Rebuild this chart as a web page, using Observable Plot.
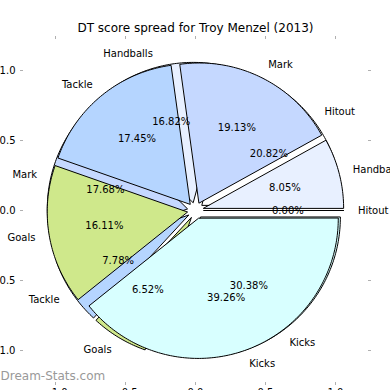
<!DOCTYPE html>
<html>
<head>
<meta charset="utf-8">
<script src="https://cdn.jsdelivr.net/npm/d3@7"></script>
<script src="https://cdn.jsdelivr.net/npm/@observablehq/plot@0.6"></script>
<style>
  html, body { margin: 0; padding: 0; background: #fff; }
  #chart svg { display: block; }
</style>
</head>
<body>
<div id="chart"></div>
<script>
// ---- data (counter-clockwise from 0°, as in matplotlib) ----
const title = "DT score spread for Troy Menzel (2013)";
const watermark = "Dream-Stats.com";
const categories = ["Hitout", "Handballs", "Mark", "Tackle", "Goals", "Kicks"];
const seriesTop = [0.00, 8.05, 19.13, 17.45, 16.11, 39.26];    // pie drawn on top
const seriesUnder = [20.82, 16.82, 17.68, 7.78, 6.52, 30.38];  // pie drawn underneath
const xTicks = [-1.0, -0.5, 0.0, 0.5, 1.0];
const yTicks = [-1.0, -0.5, 0.0, 0.5, 1.0];

// ---- styling ----
const palette = ["#ffffff", "#e8f0ff", "#c5d8ff", "#b5d5ff", "#cfe88b", "#d8ffff"];
const explode = 0.06;
const shadowOffset = 0.02;

function wedges(values, name) {
  const total = d3.sum(values);
  let a0 = 0;
  return values.map((v, i) => {
    const a1 = a0 + (v / total) * 2 * Math.PI;
    const mid = (a0 + a1) / 2;
    const w = {pie: name, cat: categories[i], value: v, pct: (v / total) * 100,
      a0, a1, mid, cx: explode * Math.cos(mid), cy: explode * Math.sin(mid), color: palette[i]};
    a0 = a1;
    return w;
  });
}

function polygon(w, ox, oy, color, keySuffix) {
  const pts = [];
  const key = w.pie + "-" + w.cat + keySuffix;
  pts.push({key, color, x: w.cx + ox, y: w.cy + oy});
  const n = Math.max(2, Math.ceil((w.a1 - w.a0) / (Math.PI / 180)));
  for (let k = 0; k <= n; k++) {
    const a = w.a0 + (w.a1 - w.a0) * k / n;
    pts.push({key, color, x: w.cx + ox + Math.cos(a), y: w.cy + oy + Math.sin(a)});
  }
  return pts;
}

function shade(c) {
  const r = d3.rgb(c);
  return d3.rgb(r.r * 0.3, r.g * 0.3, r.b * 0.3).formatHex();
}

const wTop = wedges(seriesTop, "top");
const wUnder = wedges(seriesUnder, "under");
const all = [...wUnder, ...wTop];

const shadowPts = all.flatMap(w => polygon(w, -shadowOffset, -shadowOffset, shade(w.color), "-s"));
const underPts = wUnder.flatMap(w => polygon(w, 0, 0, w.color, ""));
const topPts = wTop.flatMap(w => polygon(w, 0, 0, w.color, ""));

const labels = all.map(w => ({
  x: w.cx + 1.1 * Math.cos(w.mid), y: w.cy + 1.1 * Math.sin(w.mid), text: w.cat
}));
const labelsRight = labels.filter(d => d.x > 0);
const labelsLeft = labels.filter(d => d.x <= 0);
const pcts = all.map(w => ({
  x: w.cx + 0.6 * Math.cos(w.mid), y: w.cy + 0.6 * Math.sin(w.mid),
  text: w.pct.toFixed(2) + "%"
}));

const fmt = d3.format(".1f");
const tickColor = "#b0b0b0";

const chart = Plot.plot({
  width: 390,
  height: 390,
  marginLeft: 20,
  marginRight: 20,
  marginTop: 35,
  marginBottom: 5,
  style: {fontFamily: "DejaVu Sans", fontSize: "10px", background: "#fff", color: "#000", overflow: "visible"},
  x: {domain: [-1.25, 1.25]},
  y: {domain: [-1.25, 1.25]},
  color: {type: "identity"},
  marks: [
    Plot.line(shadowPts, {x: "x", y: "y", z: "key", fill: "color", stroke: "color", strokeWidth: 1.5, fillOpacity: 0.6, strokeOpacity: 0.6, curve: "linear-closed", ariaLabel: "shadow"}),
    Plot.line(underPts, {x: "x", y: "y", z: "key", fill: "color", stroke: "#000", strokeWidth: 1, curve: "linear-closed"}),
    Plot.line(topPts, {x: "x", y: "y", z: "key", fill: "color", stroke: "#000", strokeWidth: 1, curve: "linear-closed"}),
    Plot.text(labelsRight, {x: "x", y: "y", text: "text", textAnchor: "start", fill: "#000", fontSize: 10}),
    Plot.text(labelsLeft, {x: "x", y: "y", text: "text", textAnchor: "end", fill: "#000", fontSize: 10}),
    Plot.text(pcts, {x: "x", y: "y", text: "text", fill: "#000", fontSize: 10}),
    // tick marks (inward) on all four sides
    Plot.axisX(xTicks, {anchor: "top", tickSize: 3, dy: 3, stroke: tickColor, tickFormat: () => "", label: null}),
    Plot.axisX(xTicks, {anchor: "bottom", tickSize: 3, dy: -3, stroke: tickColor, tickFormat: () => "", label: null}),
    Plot.axisY(yTicks, {anchor: "left", tickSize: 3, dx: 3, stroke: tickColor, tickFormat: () => "", label: null}),
    Plot.axisY(yTicks, {anchor: "right", tickSize: 3, dx: -3, stroke: tickColor, tickFormat: () => "", label: null}),
    // tick labels
    Plot.axisY(yTicks, {anchor: "left", tickSize: 0, tickPadding: 5, tickFormat: fmt, fill: "#000", fontSize: 10, label: null}),
    Plot.axisX(xTicks, {anchor: "bottom", tickSize: 0, tickPadding: 3, tickFormat: fmt, fill: "#000", fontSize: 10, label: null}),
    Plot.text([title], {frameAnchor: "top", dy: -12, fontSize: 12, fill: "#000"}),
    Plot.text([watermark], {frameAnchor: "bottom-left", dx: -20, dy: -6, textAnchor: "start", fontSize: 12, fill: "#999"})
  ]
});

// soft shadow like matplotlib
const ns = "http://www.w3.org/2000/svg";
const defs = document.createElementNS(ns, "defs");
const filter = document.createElementNS(ns, "filter");
filter.setAttribute("id", "shadowBlur");
filter.setAttribute("x", "-10%"); filter.setAttribute("y", "-10%");
filter.setAttribute("width", "120%"); filter.setAttribute("height", "120%");
const blur = document.createElementNS(ns, "feGaussianBlur");
blur.setAttribute("stdDeviation", "1");
filter.appendChild(blur);
defs.appendChild(filter);
chart.insertBefore(defs, chart.firstChild);
chart.querySelectorAll('g[aria-label="shadow"]').forEach(g => g.setAttribute("filter", "url(#shadowBlur)"));

document.getElementById("chart").appendChild(chart);
</script>
</body>
</html>
